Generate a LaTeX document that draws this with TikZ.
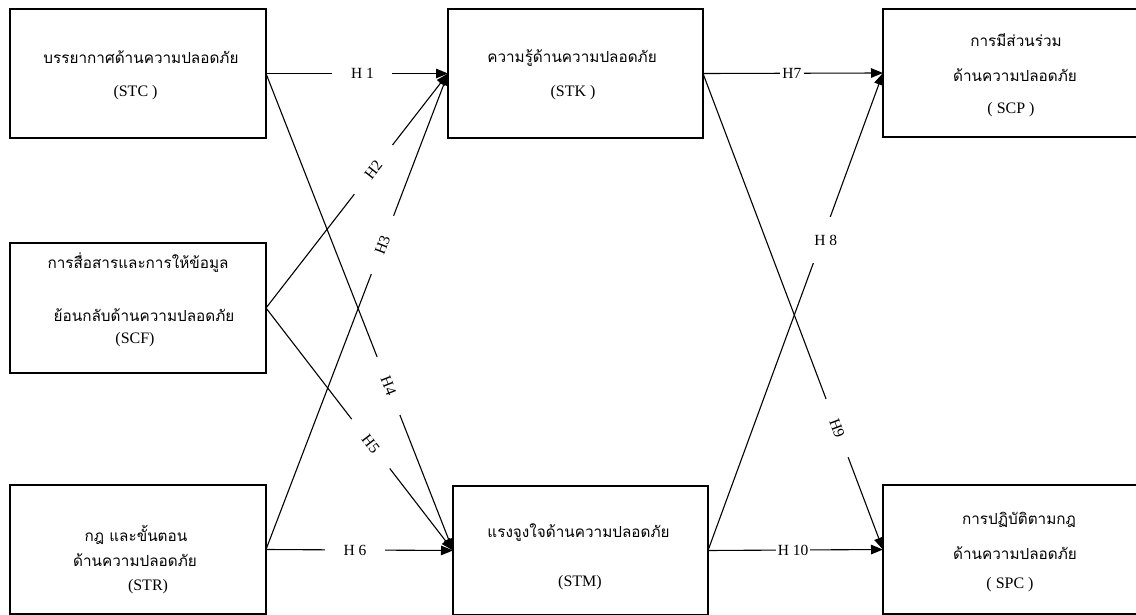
\documentclass[tikz,border=0pt]{standalone}
\usepackage{fontspec}
\setmainfont{Liberation Serif}
\newfontfamily\thaifont[Script=Thai]{Loma}
\usetikzlibrary{arrows.meta}
\begin{document}
\begin{tikzpicture}[x=1pt,y=-1pt,
  box/.style={draw,line width=1.3pt,anchor=north west,inner sep=0pt,outer sep=0pt},
  thai/.style={font=\thaifont\fontsize{15.3}{18}\selectfont,inner sep=0pt},
  lat/.style={font=\fontsize{16}{18}\selectfont,inner sep=0pt},
  hyp/.style={font=\fontsize{15.5}{16}\selectfont,inner sep=0pt},
  gap/.style={fill=white,inner sep=0pt,minimum height=16pt},
  conn/.style={line width=1.1pt,-{Triangle[length=12pt,width=9.5pt]}}]
\useasboundingbox (0,0) rectangle (1136,615);
\fill[white] (0,0) rectangle (1136,615);
% boxes
\node[box,minimum width=256pt,minimum height=129pt] (stc) at (10,9) {};
\node[box,minimum width=256pt,minimum height=130pt] (scf) at (10,243) {};
\node[box,minimum width=256pt,minimum height=129pt] (str) at (10,485) {};
\node[box,minimum width=255pt,minimum height=129pt] (stk) at (448,9) {};
\node[box,minimum width=255pt,minimum height=129pt] (stm) at (453,486) {};
\node[box,minimum width=262pt,minimum height=128pt] (scp) at (883,9) {};
\node[box,minimum width=262pt,minimum height=129pt] (spc) at (883,485) {};
% texts
\node[thai] (t1) at (141,57) {บรรยากาศด้านความปลอดภัย};
\node[lat] (t2) at (135.5,93) {(STC )};
\node[thai] (t3) at (138,263) {การสื่อสารและการให้ข้อมูล};
\node[thai] (t4) at (144,315) {ย้อนกลับด้านความปลอดภัย};
\node[lat] (t5) at (135,340) {(SCF)};
\node[thai] (t6) at (136,535) {กฎ และขั้นตอน};
\node[thai] (t7) at (135,560) {ด้านความปลอดภัย};
\node[lat] (t8) at (148,587) {(STR)};
\node[thai] (t9) at (572,58) {ความรู้ด้านความปลอดภัย};
\node[lat] (t10) at (573,93) {(STK )};
\node[thai] (t11) at (578.5,533) {แรงจูงใจด้านความปลอดภัย};
\node[lat] (t12) at (580,583) {(STM)};
\node[thai] (t13) at (1016,40) {การมีส่วนร่วม};
\node[thai] (t14) at (1015,75) {ด้านความปลอดภัย};
\node[lat] (t15) at (1011,110) {( SCP )};
\node[thai] (t16) at (1019,520) {การปฏิบัติตามกฎ};
\node[thai] (t17) at (1015,553) {ด้านความปลอดภัย};
\node[lat] (t18) at (1010,585) {( SPC )};
% connectors
\draw[conn] (stc.east) -- node[gap,pos=0.53,minimum width=60pt] {} node[hyp,pos=0.53] {H 1} (stk.west);
\draw[conn] (scf.east) -- node[gap,sloped,pos=0.59,minimum width=62pt] {} node[hyp,sloped,pos=0.59] {H2} (stk.west);
\draw[conn] (str.east) -- node[gap,sloped,pos=0.64,minimum width=62pt] {} node[hyp,sloped,pos=0.64] {H3} (stk.west);
\draw[conn] (stc.east) -- node[gap,sloped,pos=0.655,minimum width=62pt] {} node[hyp,sloped,pos=0.655] {H4} (stm.west);
\draw[conn] (scf.east) -- node[gap,sloped,pos=0.56,minimum width=62pt] {} node[hyp,sloped,pos=0.56] {H5} (stm.west);
\draw[conn] (str.east) -- node[gap,pos=0.476,minimum width=60pt] {} node[hyp,pos=0.476] {H 6} (stm.west);
\draw[conn] (stk.east) -- node[gap,pos=0.494,minimum width=24pt] {} node[hyp,pos=0.494] {H7} (scp.west);
\draw[conn] (stm.east) -- node[gap,pos=0.65,minimum width=30pt,minimum height=46pt] {} node[hyp,pos=0.65,xshift=4pt] {H 8} (scp.west);
\draw[conn] (stk.east) -- node[gap,sloped,pos=0.745,minimum width=62pt] {} node[hyp,sloped,pos=0.745] {H9} (spc.west);
\draw[conn] (stm.east) -- node[gap,pos=0.486,minimum width=34pt] {} node[hyp,pos=0.486] {H 10} (spc.west);
\end{tikzpicture}
\end{document}
